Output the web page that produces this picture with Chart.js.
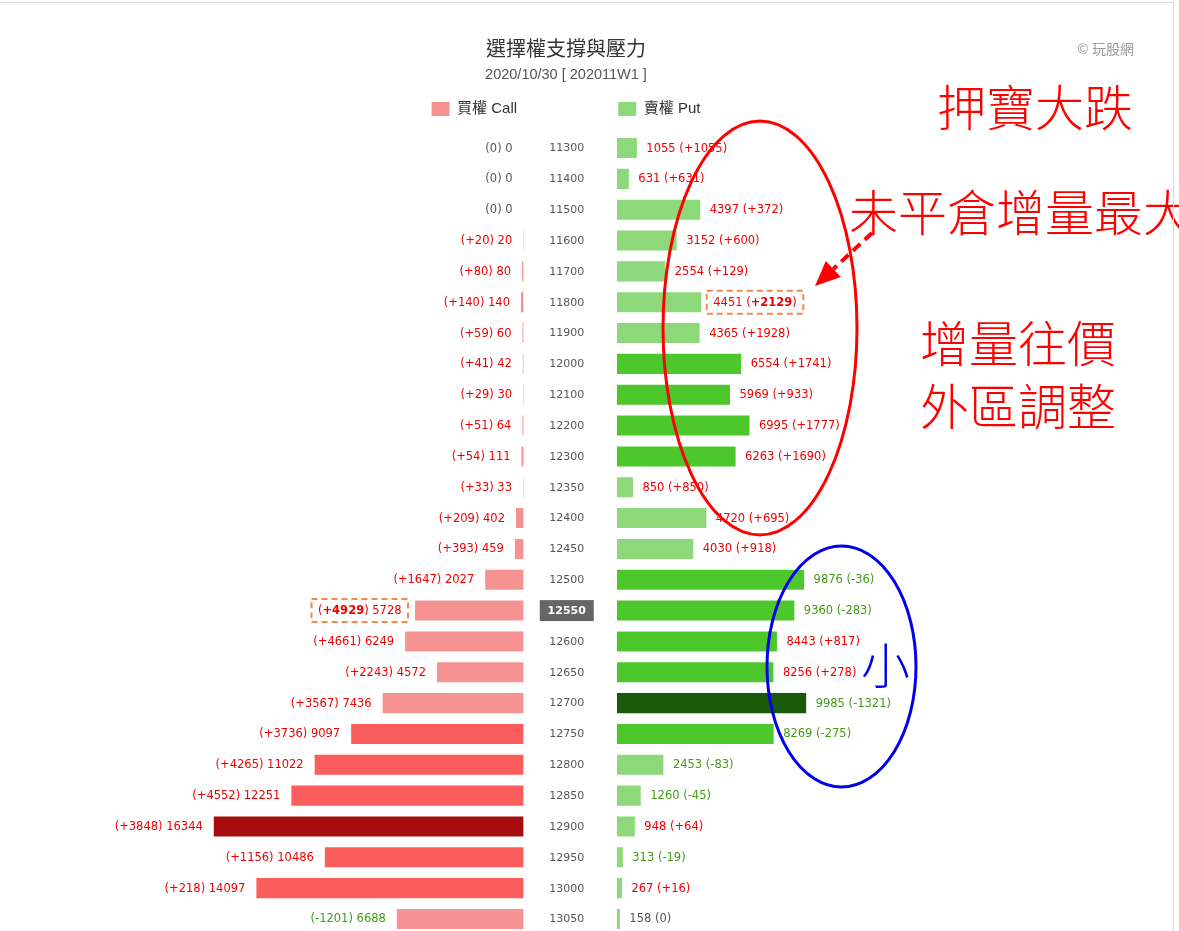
<!DOCTYPE html>
<html><head><meta charset="utf-8">
<script src="https://cdn.jsdelivr.net/npm/chart.js@4.4.1/dist/chart.umd.min.js"></script>
<style>
html,body{margin:0;padding:0;background:#fff;overflow:hidden;width:1179px;height:931px}
#wrap{position:relative;width:1179px;height:950px}
#frame{position:absolute;left:-2px;top:2px;width:1176px;height:1000px;box-sizing:border-box;border:1px solid #ddd;pointer-events:none}
canvas{display:block}
</style></head><body>
<div id="wrap"><canvas id="c" width="1179" height="950"></canvas><div id="frame"></div></div>
<script>
// ---- data ----
const strikes = [11300,11400,11500,11600,11700,11800,11900,12000,12100,12200,12300,12350,12400,12450,12500,12550,12600,12650,12700,12750,12800,12850,12900,12950,13000,13050];
const callOI  = [0,0,0,20,80,140,60,42,30,64,111,33,402,459,2027,5728,6249,4572,7436,9097,11022,12251,16344,10486,14097,6688];
const callChg = [0,0,0,20,80,140,59,41,29,51,54,33,209,393,1647,4929,4661,2243,3567,3736,4265,4552,3848,1156,218,-1201];
const putOI   = [1055,631,4397,3152,2554,4451,4365,6554,5969,6995,6263,850,4720,4030,9876,9360,8443,8256,9985,8269,2453,1260,948,313,267,158];
const putChg  = [1055,631,372,600,129,2129,1928,1741,933,1777,1690,850,695,918,-36,-283,817,278,-1321,-275,-83,-45,64,-19,16,0];
const atmStrike = 12550;
const titleText = '選擇權支撐與壓力';
const subtitleText = '2020/10/30 [ 202011W1 ]';
const seriesNames = ['買權 Call', '賣權 Put'];
const creditText = '© 玩股網';

// ---- styles ----
const CALL_COLORS = {light:'#f79292', mid:'#fb5c5c', dark:'#a80d0d'};
const PUT_COLORS  = {light:'#8dd878', mid:'#4cc82c', dark:'#185a08'};
function shade(values, pal){
  const mx = Math.max(...values);
  return values.map(v => v === mx ? pal.dark : (v >= mx * 0.5 ? pal.mid : pal.light));
}
const NORMAL = '11.5px "DejaVu Sans"', BOLD = 'bold 11.5px "DejaVu Sans"';
function fmtDelta(d){ return d > 0 ? '+' + d : String(d); }
function labelColor(d){ return d > 0 ? '#ee0000' : (d < 0 ? '#459a16' : '#555555'); }

function drawSegments(ctx, segs, x, y, align){
  let w = 0;
  segs.forEach(s => { ctx.font = s.b ? BOLD : NORMAL; s.w = ctx.measureText(s.t).width; w += s.w; });
  let sx = align === 'right' ? x - w : x;
  const start = sx;
  segs.forEach(s => { ctx.font = s.b ? BOLD : NORMAL; ctx.fillText(s.t, sx, y); sx += s.w; });
  return {start, w};
}
function dashedBox(ctx, start, w, y){
  ctx.save();
  ctx.setLineDash([6,4]);
  ctx.strokeStyle = '#f5894a';
  ctx.lineWidth = 2;
  ctx.strokeRect(start - 6.5, y - 11.5, w + 13, 23);
  ctx.restore();
}

const labelPlugin = {
  id: 'barLabels',
  afterDatasetsDraw(chart){
    const ctx = chart.ctx;
    const yS = chart.scales.y, mid = chart.scales.xMid;
    const maxCallChg = Math.max(...callChg), maxPutChg = Math.max(...putChg);
    ctx.save();
    ctx.textBaseline = 'middle';
    // strike labels
    const cx = (mid.left + mid.right) / 2 - 3.5;
    strikes.forEach((s, i) => {
      const y = yS.getPixelForValue(i);
      ctx.textAlign = 'center';
      if (s === atmStrike){
        ctx.fillStyle = '#666666';
        ctx.fillRect(cx - 27, y - 10.5, 54, 21);
        ctx.fillStyle = '#ffffff';
        ctx.font = 'bold 11px "DejaVu Sans"';
      } else {
        ctx.fillStyle = '#555555';
        ctx.font = '11px "DejaVu Sans"';
      }
      ctx.fillText(String(s), cx, y + 0.5);
    });
    ctx.textAlign = 'left';
    // call labels
    chart.getDatasetMeta(0).data.forEach((bar, i) => {
      const left = Math.min(bar.x, bar.base);
      const d = callChg[i];
      const hl = d === maxCallChg;
      ctx.fillStyle = labelColor(d);
      const segs = hl ? [{t:'('}, {t:fmtDelta(d), b:true}, {t:') ' + callOI[i]}]
                      : [{t:'(' + fmtDelta(d) + ') ' + callOI[i]}];
      const r = drawSegments(ctx, segs, left - (hl ? 13.5 : 11), bar.y + 0.5, 'right');
      if (hl) dashedBox(ctx, r.start, r.w, bar.y);
    });
    // put labels
    chart.getDatasetMeta(1).data.forEach((bar, i) => {
      const right = Math.max(bar.x, bar.base);
      const d = putChg[i];
      const hl = d === maxPutChg;
      ctx.fillStyle = labelColor(d);
      const segs = hl ? [{t:putOI[i] + ' ('}, {t:fmtDelta(d), b:true}, {t:')'}]
                      : [{t:putOI[i] + ' (' + fmtDelta(d) + ')'}];
      const r = drawSegments(ctx, segs, right + (hl ? 12 : 9.5), bar.y + 0.5, 'left');
      if (hl) dashedBox(ctx, r.start, r.w, bar.y);
    });
    ctx.restore();
  }
};

const notePlugin = {
  id: 'notes',
  afterDraw(chart){
    const ctx = chart.ctx;
    ctx.save();
    // credits
    ctx.font = '14px "Liberation Sans", "Noto Sans CJK TC"';
    ctx.fillStyle = '#999999';
    ctx.textAlign = 'right';
    ctx.textBaseline = 'middle';
    ctx.fillText(creditText, 1134, 50);
    // annotations
    ctx.textAlign = 'left';
    ctx.fillStyle = '#ff0000';
    ctx.font = '300 49px "Noto Sans CJK TC"';
    ctx.fillText('押寶大跌', 937, 107);
    ctx.fillText('未平倉增量最大', 849, 212);
    ctx.fillText('增量往價', 920, 343);
    ctx.fillText('外區調整', 920, 406);
    ctx.fillStyle = '#0000ee';
    ctx.fillText('小', 861, 665);
    // red ellipse
    ctx.lineWidth = 3;
    ctx.strokeStyle = '#ff0000';
    ctx.beginPath();
    ctx.ellipse(760, 328, 97, 207, 0, 0, Math.PI * 2);
    ctx.stroke();
    // blue ellipse
    ctx.strokeStyle = '#0000ee';
    ctx.beginPath();
    ctx.ellipse(841.5, 666.5, 74.5, 120.5, 0, 0, Math.PI * 2);
    ctx.stroke();
    // dashed arrow
    const sx = 872, sy = 233, tx = 815, ty = 286;
    const dx = tx - sx, dy = ty - sy, L = Math.hypot(dx, dy);
    const ux = dx / L, uy = dy / L, px = -uy, py = ux;
    const bx = tx - ux * 25, by = ty - uy * 25;
    ctx.strokeStyle = '#ff0000';
    ctx.lineWidth = 4;
    ctx.setLineDash([10, 6]);
    ctx.beginPath(); ctx.moveTo(sx, sy); ctx.lineTo(bx, by); ctx.stroke();
    ctx.setLineDash([]);
    ctx.fillStyle = '#ff0000';
    ctx.beginPath();
    ctx.moveTo(tx, ty);
    ctx.lineTo(bx + px * 11, by + py * 11);
    ctx.lineTo(bx - px * 11, by - py * 11);
    ctx.closePath(); ctx.fill();
    ctx.restore();
  }
};

const legendPad = ['\u2003\u2003\u2003\u2003\u2003  ', ''];
const topGap = s => { s.height = 6.1; };

new Chart(document.getElementById('c'), {
  type: 'bar',
  data: {
    labels: strikes.map(String),
    datasets: [
      {label: seriesNames[0], data: callOI, xAxisID: 'xCall', yAxisID: 'y', grouped: false,
       backgroundColor: shade(callOI, CALL_COLORS), barPercentage: 0.65, categoryPercentage: 1},
      {label: seriesNames[1], data: putOI, xAxisID: 'xPut', yAxisID: 'y', grouped: false,
       backgroundColor: shade(putOI, PUT_COLORS), barPercentage: 0.65, categoryPercentage: 1}
    ]
  },
  options: {
    indexAxis: 'y',
    responsive: false,
    animation: false,
    layout: {padding: {left: 26, right: 73, top: 0, bottom: 15.6}},
    scales: {
      xCall: {type: 'linear', position: 'top', stack: 'row', stackWeight: 497.9, weight: 3, reverse: true, min: 0, max: 26250, display: false, afterFit: topGap},
      xMid:  {type: 'linear', position: 'top', stack: 'row', stackWeight: 93.3, weight: 2, min: 0, max: 1, display: false, afterFit: topGap},
      xPut:  {type: 'linear', position: 'top', stack: 'row', stackWeight: 489.4, weight: 1, min: 0, max: 25800, display: false, afterFit: topGap},
      y: {type: 'category', display: false, offset: true}
    },
    plugins: {
      title: {display: true, text: titleText, color: '#333333',
              font: {family: '"Noto Sans CJK TC"', size: 20, weight: 'normal', lineHeight: 1.2},
              padding: {top: 36, bottom: 0}},
      subtitle: {display: true, text: subtitleText, color: '#555555',
              font: {family: '"Liberation Sans"', size: 14.5, lineHeight: 1.2},
              padding: {top: 6.3, bottom: 0}},
      legend: {display: true, position: 'top', align: 'center',
        labels: {boxWidth: 18, boxHeight: 14, padding: 17.8, color: '#333333',
          font: {family: '"Liberation Sans", "Noto Sans CJK TC"', size: 15},
          generateLabels: (chart) => chart.data.datasets.map((ds, i) => ({
            text: ds.label + legendPad[i],
            fillStyle: i === 0 ? CALL_COLORS.light : PUT_COLORS.light,
            strokeStyle: 'rgba(0,0,0,0)', lineWidth: 0,
            hidden: !chart.isDatasetVisible(i), datasetIndex: i, fontColor: '#333333'
          }))
        }},
      tooltip: {enabled: true}
    }
  },
  plugins: [labelPlugin, notePlugin]
});
</script>
</body></html>
